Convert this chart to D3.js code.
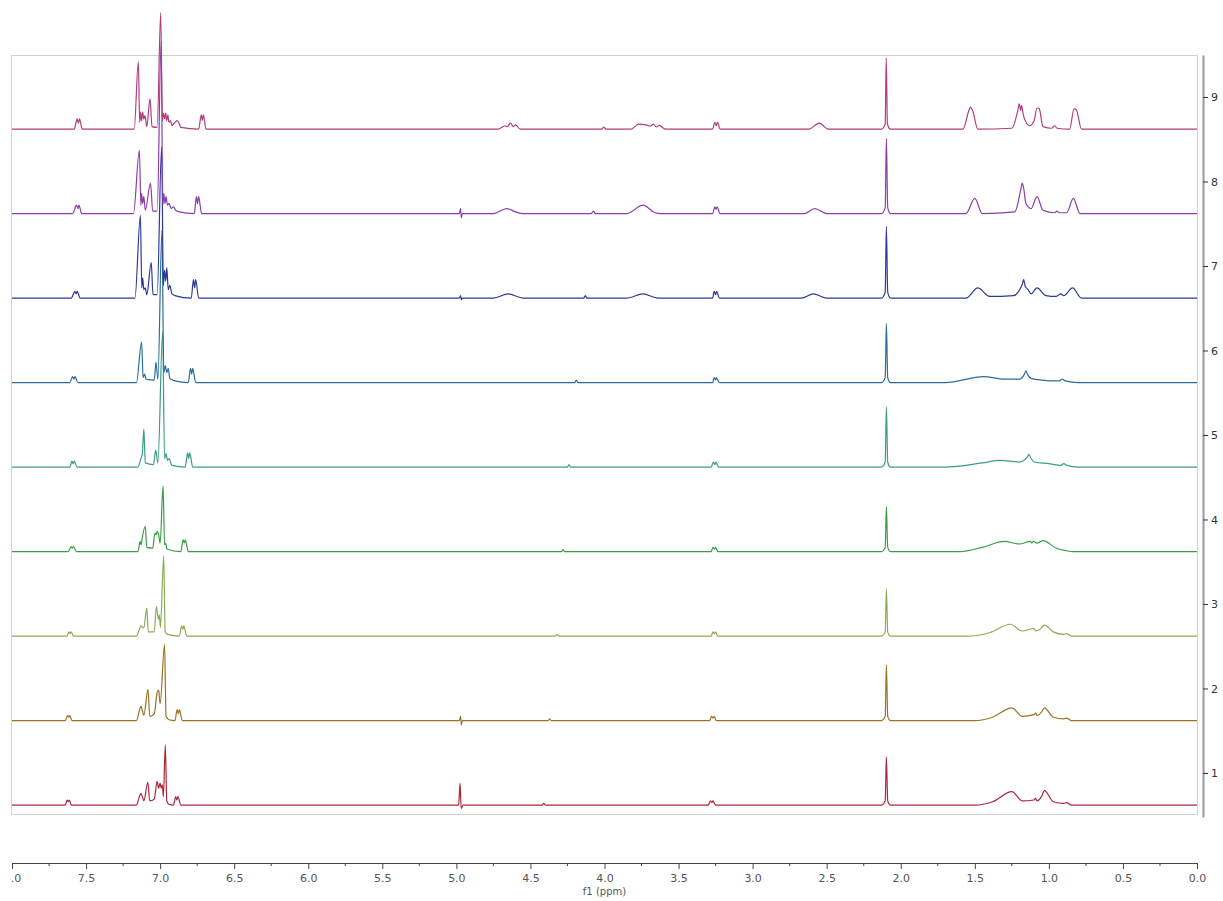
<!DOCTYPE html>
<html>
<head>
<meta charset="utf-8">
<script src="https://cdnjs.cloudflare.com/ajax/libs/d3/7.8.5/d3.min.js"></script>
<style>
  body { margin: 0; background: #fff; }
  text { font-family: "DejaVu Sans", sans-serif; }
</style>
</head>
<body>
<svg id="chart" width="1223" height="901"></svg>
<script>
// spectra: [ppm, intensity above own baseline, in offset units]
var spec1 = [[8.0,0],[7.64,0],[7.628,0.06],[7.62,0.04],[7.612,0.06],[7.6,0],
  [7.16,0],[7.14,0.1],[7.13,0.14],[7.12,0.1],[7.11,0.05],[7.083,0.27],[7.07,0.05],[7.04,0.07],[7.02,0.28],[7.01,0.2],[7.0,0.26],[6.993,0.2],[6.985,0.24],[6.978,0.1],[6.965,0.71],[6.955,0.05],[6.94,0.01],[6.91,0],[6.895,0.1],[6.887,0.06],[6.88,0.1],[6.86,0],
  [4.985,0],[4.975,0.26],[4.968,-0.04],[4.955,0],[4.42,0],[4.41,0.02],[4.4,0],
  [3.3,0],[3.285,0.05],[3.275,0.03],[3.268,0.05],[3.25,0],
  [2.13,0],[2.105,0.05],[2.097,0.57],[2.088,0.05],[2.07,0],
  [1.5,0],[1.38,0.04],[1.25,0.16],[1.18,0.05],[1.1,0.06],[1.09,0.08],[1.08,0.05],[1.05,0.1],[1.03,0.17],[0.97,0.04],[0.9,0.02],[0.88,0.03],[0.85,0],[0.0,0]]

var spec2 = [[8.0,0],[7.64,0],[7.625,0.06],[7.617,0.04],[7.61,0.06],[7.595,0],
  [7.16,0],[7.14,0.12],[7.13,0.17],[7.12,0.12],[7.11,0.06],[7.082,0.37],[7.07,0.05],[7.04,0.08],[7.02,0.33],[7.01,0.36],[7.0,0.2],[6.97,0.9],[6.96,0.05],[6.94,0.01],[6.9,0],[6.885,0.13],[6.877,0.08],[6.87,0.13],[6.85,0],
  [4.98,0],[4.972,0.05],[4.966,-0.05],[4.96,0],[4.38,0],[4.37,0.02],[4.36,0],
  [3.29,0],[3.278,0.05],[3.268,0.03],[3.26,0.05],[3.245,0],
  [2.13,0],[2.105,0.05],[2.097,0.66],[2.088,0.05],[2.07,0],
  [1.5,0],[1.38,0.04],[1.25,0.15],[1.18,0.05],[1.1,0.07],[1.09,0.09],[1.08,0.06],[1.05,0.1],[1.03,0.15],[0.97,0.04],[0.9,0.02],[0.88,0.03],[0.85,0],[0.0,0]]

var spec3 = [[8.0,0],[7.63,0],[7.615,0.05],[7.607,0.03],[7.6,0.05],[7.585,0],
  [7.16,0],[7.14,0.08],[7.13,0.12],[7.12,0.1],[7.11,0.1],[7.09,0.33],[7.08,0.05],[7.04,0.05],[7.025,0.35],[7.012,0.2],[7.005,0.25],[6.998,0.1],[6.976,0.95],[6.966,0.05],[6.95,0.02],[6.87,0],[6.855,0.12],[6.847,0.08],[6.84,0.12],[6.82,0],
  [4.33,0],[4.32,0.02],[4.31,0],
  [3.28,0],[3.268,0.05],[3.258,0.03],[3.25,0.05],[3.235,0],
  [2.13,0],[2.105,0.05],[2.097,0.56],[2.088,0.05],[2.07,0],
  [1.55,0],[1.4,0.04],[1.26,0.14],[1.18,0.06],[1.1,0.09],[1.09,0.06],[1.06,0.08],[1.03,0.13],[0.97,0.05],[0.9,0.02],[0.88,0.03],[0.85,0],[0.0,0]]

var spec4 = [[8.0,0],[7.62,0],[7.6,0.06],[7.593,0.04],[7.585,0.06],[7.565,0],
  [7.15,0],[7.135,0.12],[7.128,0.08],[7.12,0.17],[7.1,0.3],[7.09,0.05],[7.05,0.04],[7.035,0.22],[7.027,0.2],[7.02,0.24],[7.01,0.2],[7.0,0.1],[6.98,0.78],[6.97,0.08],[6.962,0.1],[6.955,0.03],[6.86,0],[6.845,0.14],[6.837,0.1],[6.83,0.14],[6.81,0],
  [4.29,0],[4.28,0.025],[4.27,0],
  [3.28,0],[3.268,0.05],[3.258,0.03],[3.25,0.05],[3.235,0],
  [2.13,0],[2.105,0.05],[2.097,0.53],[2.088,0.05],[2.07,0],
  [1.6,0],[1.45,0.05],[1.3,0.12],[1.2,0.09],[1.125,0.12],[1.115,0.1],[1.105,0.12],[1.08,0.1],[1.04,0.13],[0.95,0.04],[0.88,0.01],[0.84,0],[0.0,0]]

var spec5 = [[8.0,0],[7.61,0],[7.595,0.07],[7.587,0.04],[7.58,0.07],[7.56,0],
  [7.15,0],[7.13,0.1],[7.12,0.16],[7.11,0.45],[7.1,0.05],[7.045,0.03],[7.03,0.2],[7.015,0.05],[6.983,1.6],[6.97,0.1],[6.96,0.16],[6.95,0.08],[6.94,0.1],[6.92,0.02],[6.83,0],[6.815,0.17],[6.807,0.1],[6.8,0.17],[6.78,0],
  [4.25,0],[4.24,0.03],[4.23,0],
  [3.28,0],[3.265,0.06],[3.255,0.03],[3.248,0.06],[3.23,0],
  [2.13,0],[2.105,0.06],[2.097,0.71],[2.088,0.06],[2.07,0],
  [1.7,0],[1.45,0.05],[1.33,0.08],[1.2,0.06],[1.145,0.12],[1.135,0.15],[1.125,0.12],[1.1,0.06],[1.0,0.04],[0.92,0.02],[0.9,0.04],[0.88,0.02],[0.8,0],[0.0,0]]

var spec6 = [[8.0,0],[7.61,0],[7.59,0.07],[7.582,0.04],[7.575,0.07],[7.555,0],
  [7.16,0],[7.125,0.48],[7.115,0.06],[7.105,0.1],[7.095,0.04],[7.04,0.03],[7.028,0.24],[7.015,0.04],[6.988,1.8],[6.975,0.12],[6.965,0.2],[6.955,0.12],[6.945,0.17],[6.935,0.05],[6.9,0.02],[6.81,0],[6.795,0.17],[6.787,0.1],[6.78,0.17],[6.76,0],
  [4.2,0],[4.19,0.03],[4.18,0],
  [3.27,0],[3.26,0.06],[3.25,0.03],[3.245,0.06],[3.225,0],
  [2.13,0],[2.105,0.06],[2.097,0.7],[2.088,0.06],[2.07,0],
  [1.7,0],[1.44,0.07],[1.3,0.04],[1.2,0.04],[1.165,0.1],[1.155,0.14],[1.145,0.1],[1.12,0.05],[1.05,0.03],[0.93,0.02],[0.91,0.04],[0.89,0.02],[0.8,0],[0.0,0]]

var spec7 = [[8.0,0],[7.6,0],[7.575,0.08],[7.567,0.05],[7.56,0.08],[7.54,0],
  [7.17,0],[7.133,0.98],[7.124,0.12],[7.118,0.24],[7.11,0.1],[7.1,0.12],[7.09,0.04],[7.06,0.42],[7.048,0.04],[7.02,0.04],[6.99,1.79],[6.978,0.15],[6.97,0.33],[6.962,0.2],[6.955,0.36],[6.945,0.1],[6.935,0.15],[6.92,0.05],[6.9,0.03],[6.79,0],[6.775,0.22],[6.767,0.12],[6.76,0.22],[6.74,0],
  [4.98,0],[4.972,0.03],[4.966,-0.02],[4.96,0],[4.75,0],[4.65,0.05],[4.55,0],[4.14,0],[4.13,0.03],[4.12,0],
  [3.85,0],[3.74,0.05],[3.64,0],
  [3.27,0],[3.26,0.08],[3.25,0.04],[3.243,0.08],[3.225,0],
  [2.67,0],[2.59,0.05],[2.5,0],
  [2.13,0],[2.105,0.07],[2.097,0.85],[2.088,0.07],[2.07,0],
  [1.56,0],[1.48,0.12],[1.4,0.02],[1.24,0.03],[1.18,0.16],[1.17,0.22],[1.16,0.14],[1.14,0.1],[1.12,0.05],[1.08,0.12],[1.02,0.03],[0.95,0.02],[0.92,0.05],[0.9,0.03],[0.84,0.12],[0.78,0],[0.0,0]]

var spec8 = [[8.0,0],[7.59,0],[7.565,0.1],[7.555,0.06],[7.548,0.1],[7.53,0],
  [7.18,0],[7.14,0.75],[7.13,0.1],[7.125,0.24],[7.118,0.12],[7.11,0.2],[7.1,0.04],[7.065,0.36],[7.05,0.03],[7.02,0.03],[6.993,2.04],[6.982,0.1],[6.975,0.24],[6.968,0.12],[6.96,0.2],[6.95,0.1],[6.94,0.12],[6.925,0.06],[6.91,0.08],[6.895,0.04],[6.87,0.02],[6.77,0],[6.755,0.2],[6.748,0.12],[6.74,0.2],[6.72,0],
  [4.98,0],[4.972,0.06],[4.966,-0.05],[4.96,0],[4.75,0],[4.66,0.06],[4.6,0.02],[4.55,0],[4.09,0],[4.075,0.03],[4.06,0],
  [3.85,0],[3.74,0.1],[3.66,0.01],[3.62,0],
  [3.27,0],[3.255,0.08],[3.247,0.05],[3.24,0.08],[3.22,0],
  [2.65,0],[2.58,0.06],[2.5,0],
  [2.13,0],[2.105,0.07],[2.097,0.89],[2.088,0.07],[2.07,0],
  [1.56,0],[1.5,0.18],[1.45,0],[1.23,0.02],[1.19,0.28],[1.18,0.36],[1.17,0.3],[1.155,0.12],[1.12,0.06],[1.08,0.2],[1.04,0.04],[0.96,0.01],[0.945,0.03],[0.93,0.01],[0.88,0.01],[0.835,0.18],[0.79,0],[0.0,0]]

var spec9 = [[8.0,0],[7.58,0],[7.56,0.12],[7.552,0.07],[7.545,0.12],[7.525,0],
  [7.175,0],[7.147,0.8],[7.138,0.08],[7.132,0.2],[7.125,0.1],[7.118,0.2],[7.11,0.12],[7.102,0.16],[7.09,0.03],[7.068,0.36],[7.055,0.03],[7.02,0.02],[6.996,1.38],[6.985,0.1],[6.978,0.19],[6.97,0.12],[6.963,0.19],[6.955,0.1],[6.948,0.17],[6.94,0.08],[6.93,0.1],[6.92,0.04],[6.9,0.08],[6.885,0.1],[6.87,0.06],[6.86,0.02],[6.74,0],[6.722,0.17],[6.715,0.1],[6.708,0.17],[6.69,0],
  [4.72,0],[4.67,0.04],[4.655,0.03],[4.635,0.07],[4.615,0.03],[4.6,0.05],[4.57,0],[4.02,0],[4.005,0.025],[3.99,0],
  [3.82,0],[3.77,0.06],[3.72,0.05],[3.69,0.035],[3.67,0.06],[3.65,0.025],[3.63,0.045],[3.59,0],
  [3.27,0],[3.255,0.08],[3.245,0.04],[3.237,0.08],[3.22,0],
  [2.62,0],[2.55,0.07],[2.49,0],
  [2.13,0],[2.105,0.06],[2.098,0.84],[2.09,0.06],[2.07,0],
  [1.58,0],[1.54,0.22],[1.53,0.26],[1.515,0.22],[1.48,0],[1.25,0.01],[1.21,0.22],[1.2,0.3],[1.19,0.22],[1.185,0.28],[1.17,0.15],[1.13,0.04],[1.1,0.1],[1.08,0.25],[1.065,0.24],[1.04,0.03],[0.98,0.01],[0.96,0.04],[0.945,0.01],[0.86,0],[0.83,0.24],[0.815,0.23],[0.78,0],[0.0,0]]

var spectra = [spec1, spec2, spec3, spec4, spec5, spec6, spec7, spec8, spec9]
var colors = ["#a8283a", "#9a7224", "#8cab55", "#3c9c46", "#3c9c86", "#2d6c9c", "#2c3a95", "#8a3ea8", "#b03e7a"]
var offsetTicks = [1, 2, 3, 4, 5, 6, 7, 8, 9]
var baseShift = -0.38
var ppmMajor = d3.range(0, 8.01, 0.5)
var ppmMinor = d3.range(0.25, 8, 0.5)

var svg = d3.select("#chart")

var x = d3.scaleLinear().domain([8, 0]).range([12, 1197])
var y = d3.scaleLinear().domain([0.479, 9.497]).range([817, 55])

// frame
svg.append("rect")
  .attr("x", 11.5).attr("y", 55.5)
  .attr("width", 1186).attr("height", 759)
  .attr("fill", "none").attr("stroke", "#d2d2d2")

var line = d3.line()
  .x(d => x(d[0]))
  .y(d => y(d[1]))
  .curve(d3.curveMonotoneX)

svg.selectAll("path.spec")
  .data(spectra)
  .enter().append("path")
  .attr("class", "spec")
  .attr("fill", "none")
  .attr("stroke", (d, i) => colors[i])
  .attr("stroke-width", 1.2)
  .attr("stroke-linejoin", "round")
  .attr("d", (d, i) => line(d.map(p => [p[0], i + 1 + baseShift + p[1]])))

// right offset axis
var yAxis = svg.append("g")
  .attr("transform", "translate(1203,0)")
  .call(d3.axisRight(y).tickValues(offsetTicks).tickSize(5).tickSizeOuter(0).tickFormat(d3.format("d")))
yAxis.select(".domain").attr("stroke", "#9a9a9a").attr("stroke-width", 2)
yAxis.selectAll(".tick line").attr("stroke", "#333")
yAxis.selectAll(".tick text").attr("x", 8).attr("fill", "#333").style("font-size", "11px")

// bottom ppm axis (left label is cut by the picture edge)
svg.append("clipPath").attr("id", "axclip")
  .append("rect").attr("x", 10.3).attr("y", 840).attr("width", 1213).attr("height", 61)

var xAxis = svg.append("g")
  .attr("clip-path", "url(#axclip)")
  .append("g")
  .attr("transform", "translate(0,863)")
  .call(d3.axisBottom(x).tickValues(ppmMajor).tickSize(6).tickSizeOuter(0).tickFormat(d3.format(".1f")))
xAxis.select(".domain").attr("stroke", "#444")
xAxis.selectAll(".tick line").attr("stroke", "#444")
xAxis.selectAll(".tick text").attr("fill", "#555").attr("dy", "0.95em").style("font-size", "11px")

svg.append("g")
  .attr("transform", "translate(0,863)")
  .selectAll("line")
  .data(ppmMinor)
  .enter().append("line")
  .attr("x1", d => x(d)).attr("x2", d => x(d))
  .attr("y1", 0).attr("y2", 3)
  .attr("stroke", "#444")

svg.append("text")
  .attr("x", x(4)).attr("y", 895)
  .attr("text-anchor", "middle")
  .attr("fill", "#555")
  .style("font-size", "10px")
  .text("f1 (ppm)")
</script>
</body>
</html>
